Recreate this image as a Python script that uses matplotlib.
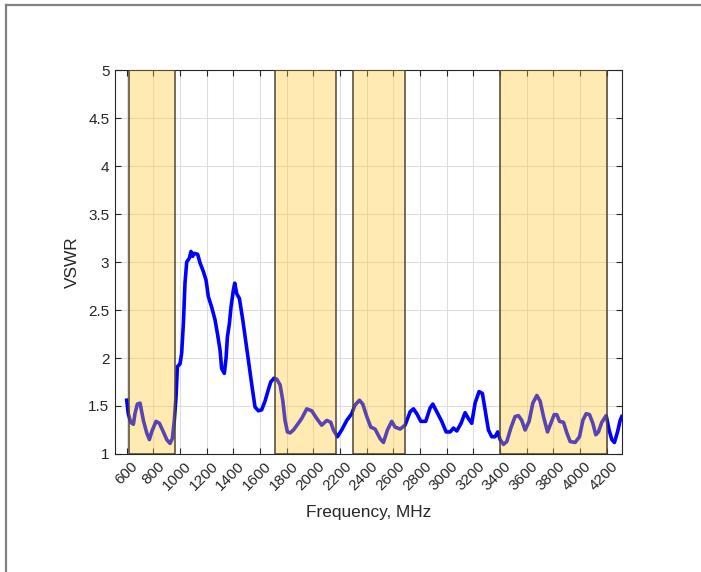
import numpy as np
import matplotlib.pyplot as plt
import matplotlib.transforms as mtransforms
from matplotlib.patches import Rectangle
from matplotlib.lines import Line2D

plt.rcParams["font.family"] = ["Liberation Sans", "DejaVu Sans"]

# ------------------------------------------------------------
# Measured VSWR vs frequency (values read off the reference)
# ------------------------------------------------------------
freq_mhz = [600, 612, 630, 650, 662, 680, 700, 725, 750, 770, 787, 820, 845, 875,
            900, 925, 942, 957, 970, 980, 1000, 1012, 1025, 1037, 1050, 1070, 1082,
            1095, 1105, 1132, 1150, 1175, 1195, 1212, 1237, 1262, 1282, 1300, 1312,
            1332, 1345, 1355, 1370, 1382, 1400, 1410, 1425, 1445, 1470, 1500, 1520,
            1540, 1562, 1587, 1612, 1637, 1662, 1680, 1705, 1725, 1750, 1770, 1787,
            1805, 1825, 1850, 1887, 1912, 1950, 1987, 2025, 2062, 2100, 2130, 2150,
            2180, 2212, 2250, 2287, 2312, 2345, 2370, 2400, 2430, 2462, 2500, 2525,
            2555, 2587, 2612, 2650, 2687, 2725, 2750, 2775, 2805, 2842, 2875, 2895,
            2925, 2962, 2995, 3025, 3050, 3075, 3107, 3137, 3162, 3187, 3212, 3242,
            3267, 3287, 3312, 3337, 3362, 3382, 3400, 3425, 3450, 3480, 3512, 3537,
            3562, 3587, 3617, 3645, 3675, 3700, 3725, 3755, 3780, 3805, 3825, 3845,
            3875, 3900, 3925, 3962, 3995, 4020, 4045, 4070, 4095, 4117, 4137, 4162,
            4195, 4217, 4237, 4257, 4280, 4300, 4312]
vswr = [1.56, 1.42, 1.33, 1.31, 1.42, 1.52, 1.53, 1.35, 1.22, 1.15, 1.23, 1.34, 1.32, 1.23,
        1.15, 1.11, 1.16, 1.35, 1.60, 1.91, 1.94, 2.05, 2.36, 2.78, 3.00, 3.04, 3.11,
        3.06, 3.09, 3.08, 2.99, 2.90, 2.81, 2.64, 2.53, 2.40, 2.24, 2.08, 1.89,
        1.84, 2.00, 2.22, 2.36, 2.53, 2.71, 2.78, 2.67, 2.62, 2.40, 2.10, 1.90,
        1.70, 1.49, 1.45, 1.46, 1.55, 1.67, 1.75, 1.79, 1.78, 1.72, 1.56, 1.35,
        1.23, 1.22, 1.25, 1.32, 1.37, 1.47, 1.45, 1.37, 1.30, 1.35, 1.33, 1.25,
        1.18, 1.25, 1.35, 1.42, 1.51, 1.56, 1.52, 1.39, 1.28, 1.26, 1.16, 1.12,
        1.25, 1.34, 1.28, 1.26, 1.30, 1.44, 1.47, 1.42, 1.34, 1.34, 1.48, 1.52,
        1.44, 1.34, 1.23, 1.23, 1.27, 1.24, 1.32, 1.43, 1.37, 1.32, 1.53, 1.65,
        1.63, 1.46, 1.25, 1.18, 1.18, 1.23, 1.15, 1.10, 1.13, 1.27, 1.39, 1.40,
        1.35, 1.25, 1.34, 1.53, 1.61, 1.55, 1.39, 1.23, 1.32, 1.41, 1.41, 1.34,
        1.33, 1.22, 1.13, 1.12, 1.18, 1.35, 1.42, 1.41, 1.32, 1.20, 1.23, 1.33,
        1.40, 1.25, 1.15, 1.12, 1.23, 1.35, 1.39]

# LTE bands highlighted (MHz)
band_start = [617, 1710, 2300, 3400]
band_stop = [960, 2170, 2690, 4200]

x_ticks = list(range(600, 4201, 200))
y_ticks = [1, 1.5, 2, 2.5, 3, 3.5, 4, 4.5, 5]

# ------------------------------------------------------------
# Plot
# ------------------------------------------------------------
fig = plt.figure(figsize=(7.01, 5.72), dpi=100)
ax = fig.add_axes([0.164, 0.2063, 0.723, 0.6713])

ax.plot(freq_mhz, vswr, color="#0000ff", linewidth=2.6, zorder=3)

for f0, f1 in zip(band_start, band_stop):
    ax.add_patch(Rectangle((f0, 1), f1 - f0, 4, facecolor="#FFC524", alpha=0.35,
                           edgecolor="none", zorder=4))
    ax.add_patch(Rectangle((f0, 1), f1 - f0, 4, facecolor="none",
                           edgecolor=(0.3, 0.27, 0.2), linewidth=1.1, zorder=5))

ax.set_xlim(512, 4312)
ax.set_ylim(1, 5)
ax.set_xticks(x_ticks)
ax.set_xticklabels([str(v) for v in x_ticks], rotation=45, ha="right",
                   rotation_mode="anchor")
ax.set_yticks(y_ticks)
ax.set_yticklabels(["1", "1.5", "2", "2.5", "3", "3.5", "4", "4.5", "5"])

dark = (0.15, 0.15, 0.15)
ax.tick_params(direction="in", length=4, width=0.8, top=True, right=True,
               labelsize=11, colors=dark, pad=4)
# shift rotated x labels a little to the right, as in the reference
shift = mtransforms.ScaledTranslation(4 / 100, 0, fig.dpi_scale_trans)
for lab in ax.get_xticklabels():
    lab.set_transform(lab.get_transform() + shift)

for s in ax.spines.values():
    s.set_color(dark)
    s.set_linewidth(0.8)
ax.grid(True, color=(0.87, 0.87, 0.87), linewidth=0.8)
ax.set_axisbelow(True)

ax.set_xlabel("Frequency, MHz", fontsize=12.4, color=dark, labelpad=8)
ax.set_ylabel("VSWR", fontsize=12.4, color=dark, labelpad=6)

# window frame lines at the top and left edge of the screenshot
fig.add_artist(Line2D([6 / 701, 1], [1 - 4.5 / 572, 1 - 4.5 / 572],
                      color=(0.5, 0.5, 0.5), linewidth=1.6))
fig.add_artist(Line2D([6 / 701, 6 / 701], [0, 1 - 4.5 / 572],
                      color=(0.5, 0.5, 0.5), linewidth=1.6))

fig.savefig("out.png", dpi=100)
